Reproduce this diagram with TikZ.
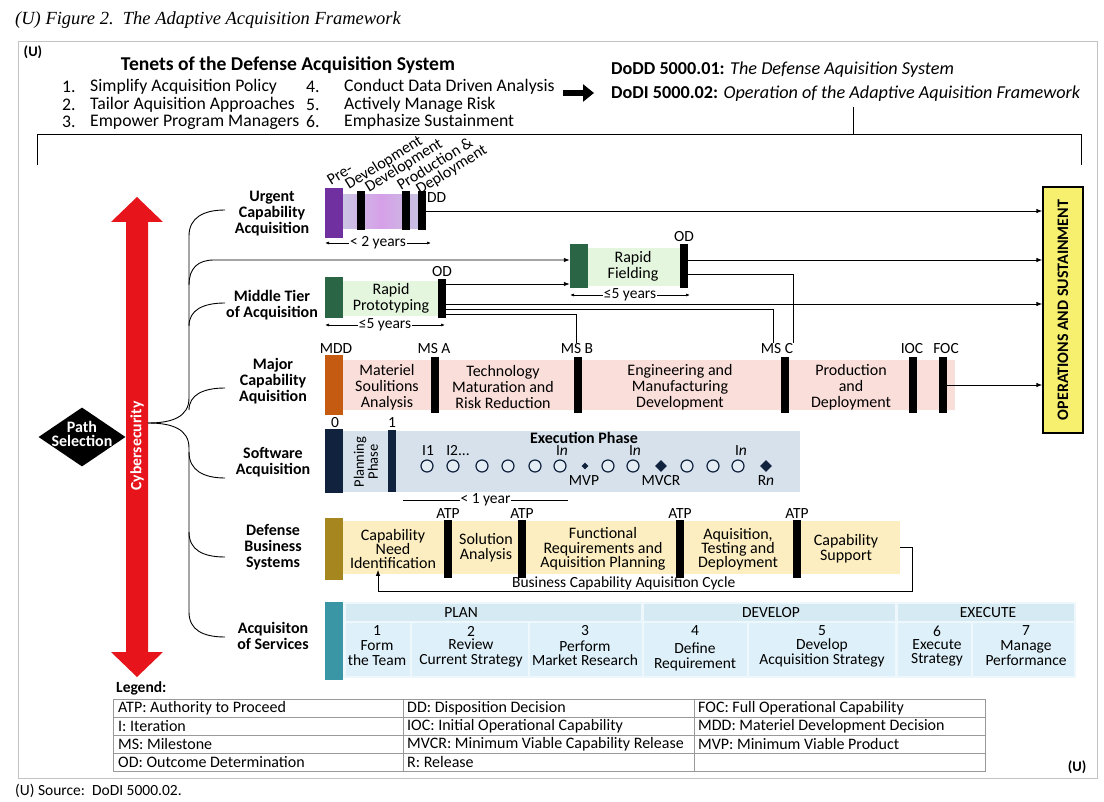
\documentclass[tikz,border=0pt]{standalone}
\usepackage{fontspec}
\setmainfont{Carlito}
\newfontfamily\titlefont{Liberation Serif}
\usetikzlibrary{arrows.meta,calc,shapes.geometric}
\newcommand{\myfs}[2]{\fontsize{#1}{#2}\selectfont}
\definecolor{urgpurple}{RGB}{112,48,160}
\definecolor{urgbandL}{RGB}{203,198,228}
\definecolor{urgbandM}{RGB}{214,160,232}
\definecolor{urgbandR}{RGB}{200,194,226}
\definecolor{mtagreen}{RGB}{42,102,70}
\definecolor{mtaband}{RGB}{228,246,222}
\definecolor{mcaorange}{RGB}{197,90,17}
\definecolor{mcaband}{RGB}{250,222,218}
\definecolor{swnavy}{RGB}{16,34,62}
\definecolor{swband}{RGB}{214,225,236}
\definecolor{swcirc}{RGB}{228,236,244}
\definecolor{dbsgold}{RGB}{166,134,30}
\definecolor{dbsband}{RGB}{252,238,192}
\definecolor{asteal}{RGB}{58,150,164}
\definecolor{asbg}{RGB}{238,247,251}
\definecolor{ashead}{RGB}{214,234,243}
\definecolor{ascell}{RGB}{222,240,249}
\definecolor{cyberred}{RGB}{232,20,28}
\definecolor{opsyellow}{RGB}{246,240,110}
\definecolor{framegray}{RGB}{195,195,195}
\begin{document}
\begin{tikzpicture}[x=1pt,y=-1pt,
  bar/.style={fill=black, inner sep=0pt, minimum width=8pt},
  leadbar/.style={fill=#1, inner sep=0pt, minimum width=18pt},
  band/.style={fill=#1, inner sep=0pt},
  rowlbl/.style={font=\myfs{16}{16}\bfseries, align=center, inner sep=1pt},
  txt/.style={font=\myfs{16}{16}, align=center, inner sep=1pt},
  lbl/.style={font=\myfs{15.5}{16}, inner sep=1pt},
  li/.style={font=\myfs{17.7}{18}, anchor=west, inner sep=0pt},
  ph/.style={font=\myfs{16}{16}, rotate=32, anchor=base west, inner sep=0pt},
  conn/.style={line width=0.9pt},
  arr/.style={conn, -{Latex[length=6pt,width=4.5pt]}},
  dur/.style={line width=0.7pt, {Latex[length=4pt,width=3pt]}-{Latex[length=4pt,width=3pt]}},
  durlbl/.style={font=\myfs{15.5}{16}, fill=white, inner sep=1pt},
  legtxt/.style={font=\myfs{16}{16}, anchor=west, inner sep=0pt},
  celltxt/.style={font=\myfs{15.5}{14.5}, align=center, inner sep=0pt},
]
\fill[white] (0,0) rectangle (1104,802);
\useasboundingbox (0,0) rectangle (1104,802);

% ---------- title, frame, source
\node[anchor=west, inner sep=0pt, font=\titlefont\itshape\myfs{18.5}{20}] (title) at (15,20) {(U) Figure 2.\ \ The Adaptive Acquisition Framework};
\draw[framegray, line width=1pt] (18,42) rectangle (1097,778);
\node[font=\myfs{14.5}{15}\bfseries, inner sep=0pt] (u1) at (33,52) {(U)};
\node[font=\myfs{14.5}{15}\bfseries, inner sep=0pt] (u2) at (1077,767) {(U)};
\node[anchor=west, inner sep=0pt, font=\myfs{15.5}{16}] (src) at (15,791) {(U) Source:\ \ DoDI 5000.02.};

% ---------- tenets
\node[font=\myfs{19.6}{20}\bfseries, inner sep=0pt] (tenets) at (288,65) {Tenets of the Defense Acquisition System};
\node[li] (n1) at (62,87) {1.};  \node[li] (t1) at (90,87) {Simplify Acquisition Policy};
\node[li] (n2) at (62,104.5) {2.};  \node[li] (t2) at (90,104.5) {Tailor Aquisition Approaches};
\node[li] (n3) at (62,122) {3.};  \node[li] (t3) at (90,122) {Empower Program Managers};
\node[li] (n4) at (306,87) {4.};  \node[li] (t4) at (344,87) {Conduct Data Driven Analysis};
\node[li] (n5) at (306,104.5) {5.};  \node[li] (t5) at (344,104.5) {Actively Manage Risk};
\node[li] (n6) at (306,122) {6.};  \node[li] (t6) at (344,122) {Emphasize Sustainment};
\coordinate (ta) at (563,93); \coordinate (tb) at (594,93);
\draw[line width=6pt, -{Triangle[length=11pt,width=17pt]}] (ta) -- (tb);
\node[li, font=\myfs{18.2}{18}] (dodd) at (611,70) {\textbf{DoDD 5000.01:} \textit{The Defense Aquisition System}};
\node[li, font=\myfs{18.2}{18}] (dodi) at (611,94) {\textbf{DoDI 5000.02:} \textit{Operation of the Adaptive Aquisition Framework}};
\coordinate (brtop) at (853,107); \coordinate (brmid) at (853,134);
\coordinate (brl) at (37,165); \coordinate (brr) at (1081,165);
\draw[conn] (brtop) -- (brmid);
\draw[conn] (brl) -- (brl |- brmid) -- (brr |- brmid) -- (brr);

% ---------- cybersecurity arrow and path selection
\fill[cyberred] (137,197) -- (163,222) -- (148,222) -- (148,652) -- (163,652) -- (137,677)
  -- (111,652) -- (126,652) -- (126,222) -- (111,222) -- cycle;
\node[rotate=90, text=white, font=\myfs{15.7}{16}\bfseries, inner sep=0pt] (cyber) at (137,446) {Cybersecurity};
\node[diamond, fill=black, minimum width=87pt, minimum height=59pt, inner sep=0pt] (ps) at (82,437) {};
\node[text=white, font=\myfs{16}{14.5}\bfseries, align=center, inner sep=0pt] (pst) at (82,434) {Path\\Selection};

% ---------- operations box
\node[draw=black, line width=1.3pt, fill=opsyellow, minimum width=40pt, minimum height=246pt, inner sep=0pt] (ops) at (1063,310) {};
\node[rotate=90, font=\myfs{16}{16}\bfseries, inner sep=0pt] (opst) at (ops.center) {OPERATIONS AND SUSTAINMENT};

% ---------- row labels
\node[rowlbl] (urgl) at (272,214) {Urgent\\Capability\\Acquisition};
\node[rowlbl] (mtal) at (272,305) {Middle Tier\\of Acquisition};
\node[rowlbl] (mcal) at (273,381) {Major\\Capability\\Aquisition};
\node[rowlbl] (swl) at (273,462) {Software\\Acquisition};
\node[rowlbl] (dbsl) at (273,547) {Defense\\Business\\Systems};
\node[rowlbl] (asl) at (273,636) {Acquisiton\\of Services};

% ---------- branching connectors
\coordinate (cyb) at (148,423);
\coordinate (bUrg) at (225,210);
\coordinate (bMta) at (225,303);
\coordinate (bMca) at (225,388);
\coordinate (bSw) at (225,478);
\coordinate (bDbs) at (225,557);
\coordinate (bAs) at (225,637);
\coordinate (rfin) at (214,260);
\draw[conn] (cyb) .. controls (172,423) and (189,417) .. (189,398) -- (189,236) .. controls (189,218) and (203,210) .. (bUrg);
\draw[conn] (189,326) .. controls (189,310) and (203,303) .. (bMta);
\draw[conn] (189,410) .. controls (189,395) and (203,388) .. (bMca);
\draw[conn] (cyb) .. controls (172,423) and (189,429) .. (189,448) -- (189,612) .. controls (189,630) and (203,637) .. (bAs);
\draw[conn] (189,452) .. controls (189,470) and (203,478) .. (bSw);
\draw[conn] (189,532) .. controls (189,550) and (203,557) .. (bDbs);

% ---------- urgent capability acquisition
\node[inner sep=0pt, minimum width=77pt, minimum height=34pt, left color=urgbandL, right color=urgbandR, middle color=urgbandM] (uband) at (381.5,212) {};
\node[leadbar=urgpurple, minimum height=50pt] (upur) at (334,213) {};
\node[bar, minimum height=39pt] (ub1) at (361,211) {};
\node[bar, minimum height=39pt] (ub2) at (406,211) {};
\node[bar, minimum height=39pt] (udd) at (422,211) {};
\node[lbl, anchor=west] (ddl) at (426,198) {DD};
\node[ph] (ph1) at (331,186) {Pre-};
\node[ph] (ph2) at (349,190) {Development};
\node[ph] (ph3) at (369,193) {Development};
\node[ph] (ph4) at (401,191) {Production \&};
\node[ph] (ph5) at (420,195) {Deployment};
\coordinate (u2a) at (325,243); \coordinate (u2b) at (431,243);
\draw[dur] (u2a) -- (u2b) node[midway, durlbl] (u2l) {< 2 years};

% ---------- middle tier
\node[band=mtaband, minimum width=95pt, minimum height=35pt] (rpband) at (390.5,298.5) {};
\node[leadbar=mtagreen, minimum height=41pt] (rpg) at (334,297.5) {};
\node[txt] (rpt) at (391,298) {Rapid\\Prototyping};
\node[bar, minimum height=39pt] (rpod) at (442,298.5) {};
\node[lbl, above=1pt] (rpodl) at (rpod.north) {OD};
\coordinate (rpa) at (325,325); \coordinate (rpb) at (445,325);
\draw[dur] (rpa) -- (rpb) node[midway, durlbl] (rpdl) {≤5 years};

\node[band=mtaband, minimum width=92pt, minimum height=38pt] (rfband) at (634,267) {};
\node[leadbar=mtagreen, minimum height=44pt] (rfbar) at (579,266) {};
\node[txt] (rft) at (633,266) {Rapid\\Fielding};
\node[bar, minimum height=44pt] (rfod) at (684,266) {};
\node[lbl, above=1pt] (rfodl) at (rfod.north) {OD};
\coordinate (rfa) at (570,295); \coordinate (rfb) at (690,295);
\draw[dur] (rfa) -- (rfb) node[midway, durlbl] (rfdl) {≤5 years};

% ---------- major capability acquisition
\node[band=mcaband, minimum width=612pt, minimum height=50pt] (mcaband) at (649,385) {};
\node[leadbar=mcaorange, minimum height=60pt] (mdd) at (334,385) {};
\node[bar, minimum height=56pt] (msa) at (435,385) {};
\node[bar, minimum height=56pt] (msb) at (578,385) {};
\node[bar, minimum height=56pt] (msc) at (785,385) {};
\node[bar, minimum height=56pt] (ioc) at (913,385) {};
\node[bar, minimum height=56pt] (foc) at (943,385) {};
\node[lbl] (mddl) at (336,349) {MDD};
\node[lbl] (msal) at (434,349) {MS A};
\node[lbl] (msbl) at (577,349) {MS B};
\node[lbl] (mscl) at (777,349) {MS C};
\node[lbl] (iocl) at (912,349) {IOC};
\node[lbl] (focl) at (946,349) {FOC};
\node[txt] (msat) at (387,387) {Materiel\\Soulitions\\Analysis};
\node[txt] (tmrr) at (503,387) {Technology\\Maturation and\\Risk Reduction};
\node[txt] (emd) at (680,387) {Engineering and\\Manufacturing\\Development};
\node[txt] (pd) at (851,387) {Production\\and\\Deployment};

% ---------- MTA / MCA connectors
\coordinate (p1) at ($(rpod.east)+(0,-14.5)$);
\coordinate (p2) at ($(rpod.east)+(0,5.5)$);
\coordinate (p3) at ($(rpod.east)+(0,10.5)$);
\coordinate (p4) at ($(rpod.east)+(0,15.5)$);
\coordinate (q1) at ($(rfod.east)+(0,-6)$);
\coordinate (q2) at ($(rfod.east)+(0,8)$);
\draw[arr] (189,285) .. controls (189,268) and (198,260) .. (rfin) -- (rfin -| rfbar.west);
\draw[arr] (p1) -- (p1 -| rfbar.west);
\draw[arr] (p2) -- (p2 -| ops.west);
\draw[conn] (p3) -| ($(mscl.north)+(-4,0)$);
\draw[conn] (p4) -| ($(msbl.north)+(-1,0)$);
\draw[arr] (q1) -- (q1 -| ops.west);
\draw[conn] (q2) -| ($(mscl.north)+(16,0)$);
\draw[arr] (udd.east) -- (udd.east -| ops.west);
\draw[arr] (foc.east) -- (foc.east -| ops.west);

% ---------- software acquisition
\node[band=swband, minimum width=457pt, minimum height=61pt] (swband) at (571.5,461.5) {};
\node[leadbar=swnavy, minimum height=64pt] (sw0) at (334,461) {};
\node[fill=swnavy, inner sep=0pt, minimum width=8pt, minimum height=62pt] (sw1) at (392,461) {};
\node[lbl] (sw0l) at (335,423) {0};
\node[lbl] (sw1l) at (392,423) {1};
\node[rotate=90, font=\myfs{14.5}{14}, align=center, inner sep=0pt] (plph) at (366,462) {Planning\\Phase};
\node[font=\myfs{16}{16}\bfseries, inner sep=0pt] (exph) at (584,438) {Execution Phase};
\foreach \cx [count=\i] in {427,453,482,508,535,560,608,633,687,713,738}
  \draw[swnavy, line width=1.2pt, fill=swcirc] (\cx,466) circle[radius=6pt];
\node[diamond, fill=swnavy, minimum size=7pt, inner sep=0pt] (mvp) at (585,466) {};
\node[diamond, fill=swnavy, minimum size=12pt, inner sep=0pt] (mvcr) at (661,466) {};
\node[diamond, fill=swnavy, minimum size=12pt, inner sep=0pt] (rn) at (766,466) {};
\node[lbl] (i1) at (428,451) {I1};
\node[lbl] (i2) at (458,451) {I2...};
\node[lbl] (in1) at (562,451) {I\textit{n}};
\node[lbl] (in2) at (635,451) {I\textit{n}};
\node[lbl] (in3) at (741,451) {I\textit{n}};
\node[lbl] (mvpl) at (584,481) {MVP};
\node[lbl] (mvcrl) at (661,481) {MVCR};
\node[lbl] (rnl) at (766,481) {R\textit{n}};
\coordinate (swa) at (403,500); \coordinate (swb) at (568,500);
\draw[line width=0.7pt] (swa) -- (swb) node[midway, durlbl] (swdl) {< 1 year};

% ---------- defense business systems
\node[band=dbsband, minimum width=557pt, minimum height=53pt] (dbsband) at (621.5,547.5) {};
\node[leadbar=dbsgold, minimum height=62pt] (dbsg) at (334,549) {};
\node[bar, minimum height=58pt] (atp1) at (448,549) {};
\node[bar, minimum height=58pt] (atp2) at (522,549) {};
\node[bar, minimum height=58pt] (atp3) at (680,549) {};
\node[bar, minimum height=58pt] (atp4) at (797,549) {};
\foreach \b in {atp1,atp2,atp3,atp4}
  \node[lbl, above=0pt] (\b l) at (\b.north) {ATP};
\node[txt, font=\myfs{16}{14}] (cni) at (393,549) {Capability\\Need\\Identification};
\node[txt, font=\myfs{16}{15}] (sa) at (486,548) {Solution\\Analysis};
\node[txt, font=\myfs{16}{14.5}] (frap) at (603,549) {Functional\\Requirements and\\Aquisition Planning};
\node[txt, font=\myfs{16}{14}] (atd) at (738,549) {Aquisition,\\Testing and\\Deployment};
\node[txt, font=\myfs{16}{15}] (cs) at (846,549) {Capability\\Support};
\draw[arr] (dbsband.east) -- ++(12,0) -- ++(0,44) -| ($(cni.south)+(-15,0)$)
  node[pos=0.27, above=0pt, lbl] (cycl) {Business Capability Aquisition Cycle};

% ---------- acquisition of services
\fill[asbg] (343,602) rectangle (1076,678);
\node[leadbar=asteal, minimum height=78pt] (asg) at (334,641) {};
\fill[ashead] (346,604) rectangle (641,621);
\fill[ashead] (644,604) rectangle (895,621);
\fill[ashead] (898,604) rectangle (1074,621);
\foreach \xa/\xb in {346/410,412/528,530/642,644/747,749/895,898/971,973/1074}
  \fill[ascell] (\xa,623) rectangle (\xb,676);
\node[lbl] (plan) at (461,613) {PLAN};
\node[lbl] (dev) at (771,613) {DEVELOP};
\node[lbl] (exe) at (988,613) {EXECUTE};
\node[celltxt] (c1n) at (377,631) {1};
\node[celltxt] (c2n) at (471,631) {2};
\node[celltxt] (c3n) at (585,631) {3};
\node[celltxt] (c4n) at (695,631) {4};
\node[celltxt] (c5n) at (822,631) {5};
\node[celltxt] (c6n) at (937,631) {6};
\node[celltxt] (c7n) at (1026,631) {7};
\node[celltxt] (c1t) at (377,653) {Form\\the Team};
\node[celltxt] (c2t) at (471,653) {Review\\Current Strategy};
\node[celltxt] (c3t) at (585,653) {Perform\\Market Research};
\node[celltxt] (c4t) at (695,657) {Define\\Requirement};
\node[celltxt] (c5t) at (822,653) {Develop\\Acquisition Strategy};
\node[celltxt] (c6t) at (937,653) {Execute\\Strategy};
\node[celltxt] (c7t) at (1026,653) {Manage\\Performance};

% ---------- legend
\node[font=\myfs{15.5}{16}\bfseries, anchor=west, inner sep=0pt] (legl) at (116,688) {Legend:};
\draw[gray!80, line width=0.8pt] (113,699) rectangle (985,771);
\foreach \yy in {717,735,753} \draw[gray!80, line width=0.8pt] (113,\yy) -- (985,\yy);
\foreach \xx in {403,694} \draw[gray!80, line width=0.8pt] (\xx,699) -- (\xx,771);
\node[legtxt] (l11) at (118,708) {ATP: Authority to Proceed};
\node[legtxt] (l21) at (118,726) {I: Iteration};
\node[legtxt] (l31) at (118,744) {MS: Milestone};
\node[legtxt] (l41) at (118,762) {OD: Outcome Determination};
\node[legtxt] (l12) at (407,708) {DD: Disposition Decision};
\node[legtxt] (l22) at (407,726) {IOC: Initial Operational Capability};
\node[legtxt] (l32) at (407,744) {MVCR: Minimum Viable Capability Release};
\node[legtxt] (l42) at (407,762) {R: Release};
\node[legtxt] (l13) at (698,708) {FOC: Full Operational Capability};
\node[legtxt] (l23) at (698,726) {MDD: Materiel Development Decision};
\node[legtxt] (l33) at (698,744) {MVP: Minimum Viable Product};
\end{tikzpicture}
\end{document}
